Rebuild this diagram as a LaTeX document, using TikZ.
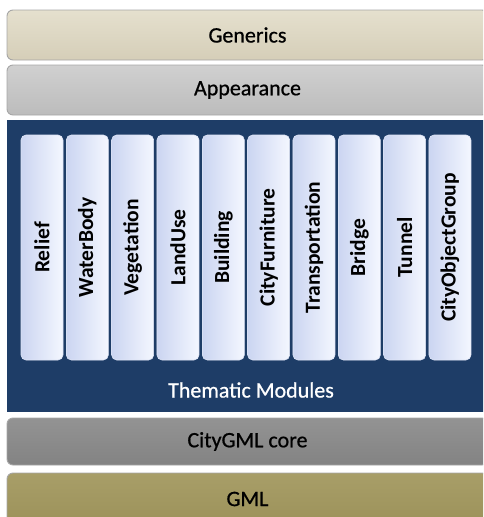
\documentclass[tikz,border=0pt]{standalone}
\usepackage{fontspec}
\setmainfont{Carlito}
\newfontfamily\layerfont{Carlito}[FakeBold=0.7]
\usetikzlibrary{positioning}

\definecolor{genT}{HTML}{E5E0CE}
\definecolor{genB}{HTML}{D5CEB8}
\definecolor{appT}{HTML}{D0D0D0}
\definecolor{appB}{HTML}{BCBCBC}
\definecolor{navy}{HTML}{1E3D67}
\definecolor{coreT}{HTML}{939393}
\definecolor{coreB}{HTML}{838383}
\definecolor{gmlT}{HTML}{A89E68}
\definecolor{gmlB}{HTML}{9C925A}
\definecolor{modL}{HTML}{CBD5F1}
\definecolor{modR}{HTML}{F4F7FF}

\begin{document}
\begin{tikzpicture}[x=1pt,y=-1pt,
  layer/.style={rectangle,rounded corners=6pt,draw=black!35,line width=0.9pt,
    minimum width=481pt,minimum height=50pt,inner sep=0pt,
    font=\layerfont\fontsize{22}{24}\selectfont},
  module/.style={rectangle,rounded corners=5pt,draw=modL!60!white,line width=0.6pt,
    minimum width=225pt,minimum height=42pt,inner sep=0pt,rotate=90,
    left color=modL,right color=modR,font=\bfseries\fontsize{21.5}{23}\selectfont}]
  \useasboundingbox (0,0) rectangle (483,517);
  \clip (0,0) rectangle (483,517);

  \node[layer,top color=genT,bottom color=genB] (generics) at (247.5,35) {Generics};
  \node[layer,top color=appT,bottom color=appB] (appearance) at (247.5,90) {Appearance};
  \node[rectangle,fill=navy,minimum width=481pt,minimum height=292pt,inner sep=0pt] (thematic) at (247.5,266) {};
  \foreach \name [count=\i from 0] in {Relief,WaterBody,Vegetation,LandUse,Building,CityFurniture,Transportation,Bridge,Tunnel,CityObjectGroup}
    \node[module] (mod\i) at ({42+45.33*\i},247.5) {\name};
  \node[text=white,font=\layerfont\fontsize{22}{24}\selectfont] (thlabel) at (251,390) {Thematic Modules};
  \node[layer,minimum height=47pt,top color=coreT,bottom color=coreB] (core) at (247.5,441.5) {CityGML core};
  \node[layer,minimum height=52pt,top color=gmlT,bottom color=gmlB] (gml) at (247.5,499) {GML};
\end{tikzpicture}
\end{document}
